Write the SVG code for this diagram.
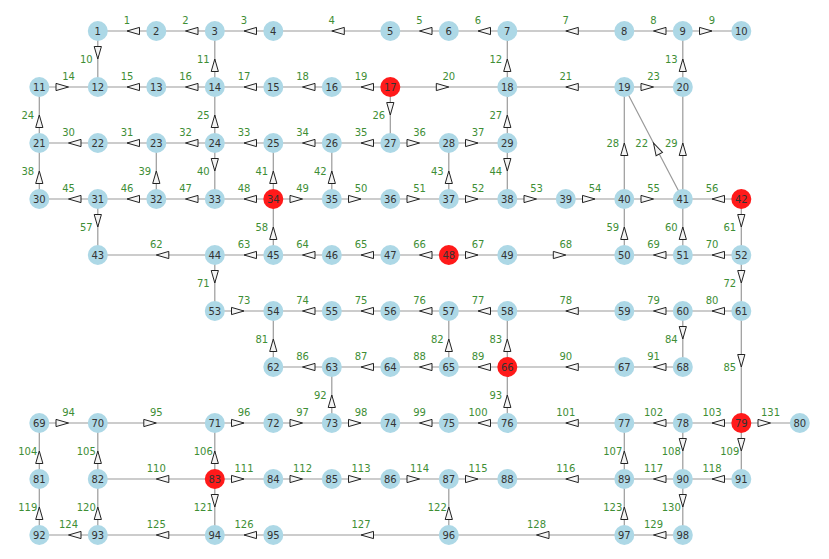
<svg xmlns="http://www.w3.org/2000/svg" width="829" height="559" viewBox="0 0 829 559">
<style>
.e{fill:none;stroke:#9a9a9a;stroke-width:1.2;marker-mid:url(#ah)}
.el{font-family:"DejaVu Sans",sans-serif;font-size:10px;fill:#3e8e35;text-anchor:middle;dominant-baseline:central}
.node circle{fill:#add8e6}
.node.hot circle{fill:#ff1a1a}
.node text{font-family:"DejaVu Sans",sans-serif;font-size:10px;fill:#333;text-anchor:middle;dominant-baseline:central}
</style>
<defs>
<marker id="ah" markerUnits="userSpaceOnUse" viewBox="-14 -6 16 12" refX="0" refY="0" markerWidth="16" markerHeight="12" orient="auto">
<path d="M-12.5,-3.6 L0,0 L-12.5,3.6 Z" fill="#f4f4f4" stroke="#222" stroke-width="1"/>
</marker>
</defs>
<rect width="829" height="559" fill="#fff"/>
<g id="edges">
<polyline class="e" points="156.3,31 127,31 97.8,31"/>
<polyline class="e" points="214.8,31 185.5,31 156.3,31"/>
<polyline class="e" points="273.3,31 244,31 214.8,31"/>
<polyline class="e" points="390.3,31 331.8,31 273.3,31"/>
<polyline class="e" points="448.8,31 419.5,31 390.3,31"/>
<polyline class="e" points="507.3,31 478,31 448.8,31"/>
<polyline class="e" points="624.3,31 565.8,31 507.3,31"/>
<polyline class="e" points="682.8,31 653.5,31 624.3,31"/>
<polyline class="e" points="682.8,31 712,31 741.3,31"/>
<polyline class="e" points="97.8,31 97.8,59 97.8,87"/>
<polyline class="e" points="214.8,87 214.8,59 214.8,31"/>
<polyline class="e" points="507.3,87 507.3,59 507.3,31"/>
<polyline class="e" points="682.8,87 682.8,59 682.8,31"/>
<polyline class="e" points="39.3,87 68.5,87 97.8,87"/>
<polyline class="e" points="156.3,87 127,87 97.8,87"/>
<polyline class="e" points="214.8,87 185.5,87 156.3,87"/>
<polyline class="e" points="273.3,87 244,87 214.8,87"/>
<polyline class="e" points="331.8,87 302.5,87 273.3,87"/>
<polyline class="e" points="390.3,87 361,87 331.8,87"/>
<polyline class="e" points="390.3,87 448.8,87 507.3,87"/>
<polyline class="e" points="624.3,87 565.8,87 507.3,87"/>
<polyline class="e" points="682.8,199 653.5,143 624.3,87"/>
<polyline class="e" points="624.3,87 653.5,87 682.8,87"/>
<polyline class="e" points="39.3,143 39.3,115 39.3,87"/>
<polyline class="e" points="214.8,143 214.8,115 214.8,87"/>
<polyline class="e" points="390.3,87 390.3,115 390.3,143"/>
<polyline class="e" points="507.3,143 507.3,115 507.3,87"/>
<polyline class="e" points="624.3,199 624.3,143 624.3,87"/>
<polyline class="e" points="682.8,199 682.8,143 682.8,87"/>
<polyline class="e" points="97.8,143 68.5,143 39.3,143"/>
<polyline class="e" points="156.3,143 127,143 97.8,143"/>
<polyline class="e" points="214.8,143 185.5,143 156.3,143"/>
<polyline class="e" points="273.3,143 244,143 214.8,143"/>
<polyline class="e" points="331.8,143 302.5,143 273.3,143"/>
<polyline class="e" points="390.3,143 361,143 331.8,143"/>
<polyline class="e" points="390.3,143 419.5,143 448.8,143"/>
<polyline class="e" points="448.8,143 478,143 507.3,143"/>
<polyline class="e" points="39.3,199 39.3,171 39.3,143"/>
<polyline class="e" points="156.3,199 156.3,171 156.3,143"/>
<polyline class="e" points="214.8,143 214.8,171 214.8,199"/>
<polyline class="e" points="273.3,199 273.3,171 273.3,143"/>
<polyline class="e" points="331.8,199 331.8,171 331.8,143"/>
<polyline class="e" points="448.8,199 448.8,171 448.8,143"/>
<polyline class="e" points="507.3,143 507.3,171 507.3,199"/>
<polyline class="e" points="97.8,199 68.5,199 39.3,199"/>
<polyline class="e" points="156.3,199 127,199 97.8,199"/>
<polyline class="e" points="214.8,199 185.5,199 156.3,199"/>
<polyline class="e" points="273.3,199 244,199 214.8,199"/>
<polyline class="e" points="273.3,199 302.5,199 331.8,199"/>
<polyline class="e" points="331.8,199 361,199 390.3,199"/>
<polyline class="e" points="390.3,199 419.5,199 448.8,199"/>
<polyline class="e" points="448.8,199 478,199 507.3,199"/>
<polyline class="e" points="507.3,199 536.5,199 565.8,199"/>
<polyline class="e" points="565.8,199 595,199 624.3,199"/>
<polyline class="e" points="624.3,199 653.5,199 682.8,199"/>
<polyline class="e" points="741.3,199 712,199 682.8,199"/>
<polyline class="e" points="97.8,199 97.8,227 97.8,255"/>
<polyline class="e" points="273.3,255 273.3,227 273.3,199"/>
<polyline class="e" points="624.3,255 624.3,227 624.3,199"/>
<polyline class="e" points="682.8,255 682.8,227 682.8,199"/>
<polyline class="e" points="741.3,199 741.3,227 741.3,255"/>
<polyline class="e" points="214.8,255 156.3,255 97.8,255"/>
<polyline class="e" points="273.3,255 244,255 214.8,255"/>
<polyline class="e" points="331.8,255 302.5,255 273.3,255"/>
<polyline class="e" points="390.3,255 361,255 331.8,255"/>
<polyline class="e" points="448.8,255 419.5,255 390.3,255"/>
<polyline class="e" points="448.8,255 478,255 507.3,255"/>
<polyline class="e" points="507.3,255 565.8,255 624.3,255"/>
<polyline class="e" points="682.8,255 653.5,255 624.3,255"/>
<polyline class="e" points="741.3,255 712,255 682.8,255"/>
<polyline class="e" points="214.8,255 214.8,283 214.8,311"/>
<polyline class="e" points="741.3,255 741.3,283 741.3,311"/>
<polyline class="e" points="214.8,311 244,311 273.3,311"/>
<polyline class="e" points="331.8,311 302.5,311 273.3,311"/>
<polyline class="e" points="390.3,311 361,311 331.8,311"/>
<polyline class="e" points="448.8,311 419.5,311 390.3,311"/>
<polyline class="e" points="507.3,311 478,311 448.8,311"/>
<polyline class="e" points="624.3,311 565.8,311 507.3,311"/>
<polyline class="e" points="682.8,311 653.5,311 624.3,311"/>
<polyline class="e" points="741.3,311 712,311 682.8,311"/>
<polyline class="e" points="273.3,367 273.3,339 273.3,311"/>
<polyline class="e" points="448.8,367 448.8,339 448.8,311"/>
<polyline class="e" points="507.3,367 507.3,339 507.3,311"/>
<polyline class="e" points="682.8,311 682.8,339 682.8,367"/>
<polyline class="e" points="741.3,311 741.3,367 741.3,423"/>
<polyline class="e" points="331.8,367 302.5,367 273.3,367"/>
<polyline class="e" points="390.3,367 361,367 331.8,367"/>
<polyline class="e" points="448.8,367 419.5,367 390.3,367"/>
<polyline class="e" points="507.3,367 478,367 448.8,367"/>
<polyline class="e" points="624.3,367 565.8,367 507.3,367"/>
<polyline class="e" points="682.8,367 653.5,367 624.3,367"/>
<polyline class="e" points="331.8,423 331.8,395 331.8,367"/>
<polyline class="e" points="507.3,423 507.3,395 507.3,367"/>
<polyline class="e" points="39.3,423 68.5,423 97.8,423"/>
<polyline class="e" points="97.8,423 156.3,423 214.8,423"/>
<polyline class="e" points="214.8,423 244,423 273.3,423"/>
<polyline class="e" points="273.3,423 302.5,423 331.8,423"/>
<polyline class="e" points="331.8,423 361,423 390.3,423"/>
<polyline class="e" points="448.8,423 419.5,423 390.3,423"/>
<polyline class="e" points="507.3,423 478,423 448.8,423"/>
<polyline class="e" points="624.3,423 565.8,423 507.3,423"/>
<polyline class="e" points="682.8,423 653.5,423 624.3,423"/>
<polyline class="e" points="741.3,423 712,423 682.8,423"/>
<polyline class="e" points="39.3,479 39.3,451 39.3,423"/>
<polyline class="e" points="97.8,479 97.8,451 97.8,423"/>
<polyline class="e" points="214.8,479 214.8,451 214.8,423"/>
<polyline class="e" points="624.3,479 624.3,451 624.3,423"/>
<polyline class="e" points="682.8,423 682.8,451 682.8,479"/>
<polyline class="e" points="741.3,423 741.3,451 741.3,479"/>
<polyline class="e" points="214.8,479 156.3,479 97.8,479"/>
<polyline class="e" points="214.8,479 244,479 273.3,479"/>
<polyline class="e" points="273.3,479 302.5,479 331.8,479"/>
<polyline class="e" points="331.8,479 361,479 390.3,479"/>
<polyline class="e" points="390.3,479 419.5,479 448.8,479"/>
<polyline class="e" points="448.8,479 478,479 507.3,479"/>
<polyline class="e" points="624.3,479 565.8,479 507.3,479"/>
<polyline class="e" points="682.8,479 653.5,479 624.3,479"/>
<polyline class="e" points="741.3,479 712,479 682.8,479"/>
<polyline class="e" points="39.3,535 39.3,507 39.3,479"/>
<polyline class="e" points="97.8,535 97.8,507 97.8,479"/>
<polyline class="e" points="214.8,479 214.8,507 214.8,535"/>
<polyline class="e" points="448.8,535 448.8,507 448.8,479"/>
<polyline class="e" points="624.3,535 624.3,507 624.3,479"/>
<polyline class="e" points="97.8,535 68.5,535 39.3,535"/>
<polyline class="e" points="214.8,535 156.3,535 97.8,535"/>
<polyline class="e" points="273.3,535 244,535 214.8,535"/>
<polyline class="e" points="448.8,535 361,535 273.3,535"/>
<polyline class="e" points="624.3,535 536.5,535 448.8,535"/>
<polyline class="e" points="682.8,535 653.5,535 624.3,535"/>
<polyline class="e" points="682.8,479 682.8,507 682.8,535"/>
<polyline class="e" points="741.3,423 770.5,423 799.8,423"/>
</g>
<g id="edge-labels">
<text class="el" x="127" y="20">1</text>
<text class="el" x="185.5" y="20">2</text>
<text class="el" x="244" y="20">3</text>
<text class="el" x="331.8" y="20">4</text>
<text class="el" x="419.5" y="20">5</text>
<text class="el" x="478" y="20">6</text>
<text class="el" x="565.8" y="20">7</text>
<text class="el" x="653.5" y="20">8</text>
<text class="el" x="712" y="20">9</text>
<text class="el" x="86.3" y="59">10</text>
<text class="el" x="203.3" y="59">11</text>
<text class="el" x="495.8" y="59">12</text>
<text class="el" x="671.3" y="59">13</text>
<text class="el" x="68.5" y="76">14</text>
<text class="el" x="127" y="76">15</text>
<text class="el" x="185.5" y="76">16</text>
<text class="el" x="244" y="76">17</text>
<text class="el" x="302.5" y="76">18</text>
<text class="el" x="361" y="76">19</text>
<text class="el" x="448.8" y="76">20</text>
<text class="el" x="565.8" y="76">21</text>
<text class="el" x="641.7" y="143">22</text>
<text class="el" x="653.5" y="76">23</text>
<text class="el" x="27.8" y="115">24</text>
<text class="el" x="203.3" y="115">25</text>
<text class="el" x="378.8" y="115">26</text>
<text class="el" x="495.8" y="115">27</text>
<text class="el" x="612.8" y="143">28</text>
<text class="el" x="671.3" y="143">29</text>
<text class="el" x="68.5" y="132">30</text>
<text class="el" x="127" y="132">31</text>
<text class="el" x="185.5" y="132">32</text>
<text class="el" x="244" y="132">33</text>
<text class="el" x="302.5" y="132">34</text>
<text class="el" x="361" y="132">35</text>
<text class="el" x="419.5" y="132">36</text>
<text class="el" x="478" y="132">37</text>
<text class="el" x="27.8" y="171">38</text>
<text class="el" x="144.8" y="171">39</text>
<text class="el" x="203.3" y="171">40</text>
<text class="el" x="261.8" y="171">41</text>
<text class="el" x="320.3" y="171">42</text>
<text class="el" x="437.3" y="171">43</text>
<text class="el" x="495.8" y="171">44</text>
<text class="el" x="68.5" y="188">45</text>
<text class="el" x="127" y="188">46</text>
<text class="el" x="185.5" y="188">47</text>
<text class="el" x="244" y="188">48</text>
<text class="el" x="302.5" y="188">49</text>
<text class="el" x="361" y="188">50</text>
<text class="el" x="419.5" y="188">51</text>
<text class="el" x="478" y="188">52</text>
<text class="el" x="536.5" y="188">53</text>
<text class="el" x="595" y="188">54</text>
<text class="el" x="653.5" y="188">55</text>
<text class="el" x="712" y="188">56</text>
<text class="el" x="86.3" y="227">57</text>
<text class="el" x="261.8" y="227">58</text>
<text class="el" x="612.8" y="227">59</text>
<text class="el" x="671.3" y="227">60</text>
<text class="el" x="729.8" y="227">61</text>
<text class="el" x="156.3" y="244">62</text>
<text class="el" x="244" y="244">63</text>
<text class="el" x="302.5" y="244">64</text>
<text class="el" x="361" y="244">65</text>
<text class="el" x="419.5" y="244">66</text>
<text class="el" x="478" y="244">67</text>
<text class="el" x="565.8" y="244">68</text>
<text class="el" x="653.5" y="244">69</text>
<text class="el" x="712" y="244">70</text>
<text class="el" x="203.3" y="283">71</text>
<text class="el" x="729.8" y="283">72</text>
<text class="el" x="244" y="300">73</text>
<text class="el" x="302.5" y="300">74</text>
<text class="el" x="361" y="300">75</text>
<text class="el" x="419.5" y="300">76</text>
<text class="el" x="478" y="300">77</text>
<text class="el" x="565.8" y="300">78</text>
<text class="el" x="653.5" y="300">79</text>
<text class="el" x="712" y="300">80</text>
<text class="el" x="261.8" y="339">81</text>
<text class="el" x="437.3" y="339">82</text>
<text class="el" x="495.8" y="339">83</text>
<text class="el" x="671.3" y="339">84</text>
<text class="el" x="729.8" y="367">85</text>
<text class="el" x="302.5" y="356">86</text>
<text class="el" x="361" y="356">87</text>
<text class="el" x="419.5" y="356">88</text>
<text class="el" x="478" y="356">89</text>
<text class="el" x="565.8" y="356">90</text>
<text class="el" x="653.5" y="356">91</text>
<text class="el" x="320.3" y="395">92</text>
<text class="el" x="495.8" y="395">93</text>
<text class="el" x="68.5" y="412">94</text>
<text class="el" x="156.3" y="412">95</text>
<text class="el" x="244" y="412">96</text>
<text class="el" x="302.5" y="412">97</text>
<text class="el" x="361" y="412">98</text>
<text class="el" x="419.5" y="412">99</text>
<text class="el" x="478" y="412">100</text>
<text class="el" x="565.8" y="412">101</text>
<text class="el" x="653.5" y="412">102</text>
<text class="el" x="712" y="412">103</text>
<text class="el" x="27.8" y="451">104</text>
<text class="el" x="86.3" y="451">105</text>
<text class="el" x="203.3" y="451">106</text>
<text class="el" x="612.8" y="451">107</text>
<text class="el" x="671.3" y="451">108</text>
<text class="el" x="729.8" y="451">109</text>
<text class="el" x="156.3" y="468">110</text>
<text class="el" x="244" y="468">111</text>
<text class="el" x="302.5" y="468">112</text>
<text class="el" x="361" y="468">113</text>
<text class="el" x="419.5" y="468">114</text>
<text class="el" x="478" y="468">115</text>
<text class="el" x="565.8" y="468">116</text>
<text class="el" x="653.5" y="468">117</text>
<text class="el" x="712" y="468">118</text>
<text class="el" x="27.8" y="507">119</text>
<text class="el" x="86.3" y="507">120</text>
<text class="el" x="203.3" y="507">121</text>
<text class="el" x="437.3" y="507">122</text>
<text class="el" x="612.8" y="507">123</text>
<text class="el" x="68.5" y="524">124</text>
<text class="el" x="156.3" y="524">125</text>
<text class="el" x="244" y="524">126</text>
<text class="el" x="361" y="524">127</text>
<text class="el" x="536.5" y="524">128</text>
<text class="el" x="653.5" y="524">129</text>
<text class="el" x="671.3" y="507">130</text>
<text class="el" x="770.5" y="412">131</text>
</g>
<g id="nodes">
<g id="n1" class="node"><circle cx="97.8" cy="31" r="10"/><text x="97.8" y="31">1</text></g>
<g id="n2" class="node"><circle cx="156.3" cy="31" r="10"/><text x="156.3" y="31">2</text></g>
<g id="n3" class="node"><circle cx="214.8" cy="31" r="10"/><text x="214.8" y="31">3</text></g>
<g id="n4" class="node"><circle cx="273.3" cy="31" r="10"/><text x="273.3" y="31">4</text></g>
<g id="n5" class="node"><circle cx="390.3" cy="31" r="10"/><text x="390.3" y="31">5</text></g>
<g id="n6" class="node"><circle cx="448.8" cy="31" r="10"/><text x="448.8" y="31">6</text></g>
<g id="n7" class="node"><circle cx="507.3" cy="31" r="10"/><text x="507.3" y="31">7</text></g>
<g id="n8" class="node"><circle cx="624.3" cy="31" r="10"/><text x="624.3" y="31">8</text></g>
<g id="n9" class="node"><circle cx="682.8" cy="31" r="10"/><text x="682.8" y="31">9</text></g>
<g id="n10" class="node"><circle cx="741.3" cy="31" r="10"/><text x="741.3" y="31">10</text></g>
<g id="n11" class="node"><circle cx="39.3" cy="87" r="10"/><text x="39.3" y="87">11</text></g>
<g id="n12" class="node"><circle cx="97.8" cy="87" r="10"/><text x="97.8" y="87">12</text></g>
<g id="n13" class="node"><circle cx="156.3" cy="87" r="10"/><text x="156.3" y="87">13</text></g>
<g id="n14" class="node"><circle cx="214.8" cy="87" r="10"/><text x="214.8" y="87">14</text></g>
<g id="n15" class="node"><circle cx="273.3" cy="87" r="10"/><text x="273.3" y="87">15</text></g>
<g id="n16" class="node"><circle cx="331.8" cy="87" r="10"/><text x="331.8" y="87">16</text></g>
<g id="n17" class="node hot"><circle cx="390.3" cy="87" r="10"/><text x="390.3" y="87">17</text></g>
<g id="n18" class="node"><circle cx="507.3" cy="87" r="10"/><text x="507.3" y="87">18</text></g>
<g id="n19" class="node"><circle cx="624.3" cy="87" r="10"/><text x="624.3" y="87">19</text></g>
<g id="n20" class="node"><circle cx="682.8" cy="87" r="10"/><text x="682.8" y="87">20</text></g>
<g id="n21" class="node"><circle cx="39.3" cy="143" r="10"/><text x="39.3" y="143">21</text></g>
<g id="n22" class="node"><circle cx="97.8" cy="143" r="10"/><text x="97.8" y="143">22</text></g>
<g id="n23" class="node"><circle cx="156.3" cy="143" r="10"/><text x="156.3" y="143">23</text></g>
<g id="n24" class="node"><circle cx="214.8" cy="143" r="10"/><text x="214.8" y="143">24</text></g>
<g id="n25" class="node"><circle cx="273.3" cy="143" r="10"/><text x="273.3" y="143">25</text></g>
<g id="n26" class="node"><circle cx="331.8" cy="143" r="10"/><text x="331.8" y="143">26</text></g>
<g id="n27" class="node"><circle cx="390.3" cy="143" r="10"/><text x="390.3" y="143">27</text></g>
<g id="n28" class="node"><circle cx="448.8" cy="143" r="10"/><text x="448.8" y="143">28</text></g>
<g id="n29" class="node"><circle cx="507.3" cy="143" r="10"/><text x="507.3" y="143">29</text></g>
<g id="n30" class="node"><circle cx="39.3" cy="199" r="10"/><text x="39.3" y="199">30</text></g>
<g id="n31" class="node"><circle cx="97.8" cy="199" r="10"/><text x="97.8" y="199">31</text></g>
<g id="n32" class="node"><circle cx="156.3" cy="199" r="10"/><text x="156.3" y="199">32</text></g>
<g id="n33" class="node"><circle cx="214.8" cy="199" r="10"/><text x="214.8" y="199">33</text></g>
<g id="n34" class="node hot"><circle cx="273.3" cy="199" r="10"/><text x="273.3" y="199">34</text></g>
<g id="n35" class="node"><circle cx="331.8" cy="199" r="10"/><text x="331.8" y="199">35</text></g>
<g id="n36" class="node"><circle cx="390.3" cy="199" r="10"/><text x="390.3" y="199">36</text></g>
<g id="n37" class="node"><circle cx="448.8" cy="199" r="10"/><text x="448.8" y="199">37</text></g>
<g id="n38" class="node"><circle cx="507.3" cy="199" r="10"/><text x="507.3" y="199">38</text></g>
<g id="n39" class="node"><circle cx="565.8" cy="199" r="10"/><text x="565.8" y="199">39</text></g>
<g id="n40" class="node"><circle cx="624.3" cy="199" r="10"/><text x="624.3" y="199">40</text></g>
<g id="n41" class="node"><circle cx="682.8" cy="199" r="10"/><text x="682.8" y="199">41</text></g>
<g id="n42" class="node hot"><circle cx="741.3" cy="199" r="10"/><text x="741.3" y="199">42</text></g>
<g id="n43" class="node"><circle cx="97.8" cy="255" r="10"/><text x="97.8" y="255">43</text></g>
<g id="n44" class="node"><circle cx="214.8" cy="255" r="10"/><text x="214.8" y="255">44</text></g>
<g id="n45" class="node"><circle cx="273.3" cy="255" r="10"/><text x="273.3" y="255">45</text></g>
<g id="n46" class="node"><circle cx="331.8" cy="255" r="10"/><text x="331.8" y="255">46</text></g>
<g id="n47" class="node"><circle cx="390.3" cy="255" r="10"/><text x="390.3" y="255">47</text></g>
<g id="n48" class="node hot"><circle cx="448.8" cy="255" r="10"/><text x="448.8" y="255">48</text></g>
<g id="n49" class="node"><circle cx="507.3" cy="255" r="10"/><text x="507.3" y="255">49</text></g>
<g id="n50" class="node"><circle cx="624.3" cy="255" r="10"/><text x="624.3" y="255">50</text></g>
<g id="n51" class="node"><circle cx="682.8" cy="255" r="10"/><text x="682.8" y="255">51</text></g>
<g id="n52" class="node"><circle cx="741.3" cy="255" r="10"/><text x="741.3" y="255">52</text></g>
<g id="n53" class="node"><circle cx="214.8" cy="311" r="10"/><text x="214.8" y="311">53</text></g>
<g id="n54" class="node"><circle cx="273.3" cy="311" r="10"/><text x="273.3" y="311">54</text></g>
<g id="n55" class="node"><circle cx="331.8" cy="311" r="10"/><text x="331.8" y="311">55</text></g>
<g id="n56" class="node"><circle cx="390.3" cy="311" r="10"/><text x="390.3" y="311">56</text></g>
<g id="n57" class="node"><circle cx="448.8" cy="311" r="10"/><text x="448.8" y="311">57</text></g>
<g id="n58" class="node"><circle cx="507.3" cy="311" r="10"/><text x="507.3" y="311">58</text></g>
<g id="n59" class="node"><circle cx="624.3" cy="311" r="10"/><text x="624.3" y="311">59</text></g>
<g id="n60" class="node"><circle cx="682.8" cy="311" r="10"/><text x="682.8" y="311">60</text></g>
<g id="n61" class="node"><circle cx="741.3" cy="311" r="10"/><text x="741.3" y="311">61</text></g>
<g id="n62" class="node"><circle cx="273.3" cy="367" r="10"/><text x="273.3" y="367">62</text></g>
<g id="n63" class="node"><circle cx="331.8" cy="367" r="10"/><text x="331.8" y="367">63</text></g>
<g id="n64" class="node"><circle cx="390.3" cy="367" r="10"/><text x="390.3" y="367">64</text></g>
<g id="n65" class="node"><circle cx="448.8" cy="367" r="10"/><text x="448.8" y="367">65</text></g>
<g id="n66" class="node hot"><circle cx="507.3" cy="367" r="10"/><text x="507.3" y="367">66</text></g>
<g id="n67" class="node"><circle cx="624.3" cy="367" r="10"/><text x="624.3" y="367">67</text></g>
<g id="n68" class="node"><circle cx="682.8" cy="367" r="10"/><text x="682.8" y="367">68</text></g>
<g id="n69" class="node"><circle cx="39.3" cy="423" r="10"/><text x="39.3" y="423">69</text></g>
<g id="n70" class="node"><circle cx="97.8" cy="423" r="10"/><text x="97.8" y="423">70</text></g>
<g id="n71" class="node"><circle cx="214.8" cy="423" r="10"/><text x="214.8" y="423">71</text></g>
<g id="n72" class="node"><circle cx="273.3" cy="423" r="10"/><text x="273.3" y="423">72</text></g>
<g id="n73" class="node"><circle cx="331.8" cy="423" r="10"/><text x="331.8" y="423">73</text></g>
<g id="n74" class="node"><circle cx="390.3" cy="423" r="10"/><text x="390.3" y="423">74</text></g>
<g id="n75" class="node"><circle cx="448.8" cy="423" r="10"/><text x="448.8" y="423">75</text></g>
<g id="n76" class="node"><circle cx="507.3" cy="423" r="10"/><text x="507.3" y="423">76</text></g>
<g id="n77" class="node"><circle cx="624.3" cy="423" r="10"/><text x="624.3" y="423">77</text></g>
<g id="n78" class="node"><circle cx="682.8" cy="423" r="10"/><text x="682.8" y="423">78</text></g>
<g id="n79" class="node hot"><circle cx="741.3" cy="423" r="10"/><text x="741.3" y="423">79</text></g>
<g id="n80" class="node"><circle cx="799.8" cy="423" r="10"/><text x="799.8" y="423">80</text></g>
<g id="n81" class="node"><circle cx="39.3" cy="479" r="10"/><text x="39.3" y="479">81</text></g>
<g id="n82" class="node"><circle cx="97.8" cy="479" r="10"/><text x="97.8" y="479">82</text></g>
<g id="n83" class="node hot"><circle cx="214.8" cy="479" r="10"/><text x="214.8" y="479">83</text></g>
<g id="n84" class="node"><circle cx="273.3" cy="479" r="10"/><text x="273.3" y="479">84</text></g>
<g id="n85" class="node"><circle cx="331.8" cy="479" r="10"/><text x="331.8" y="479">85</text></g>
<g id="n86" class="node"><circle cx="390.3" cy="479" r="10"/><text x="390.3" y="479">86</text></g>
<g id="n87" class="node"><circle cx="448.8" cy="479" r="10"/><text x="448.8" y="479">87</text></g>
<g id="n88" class="node"><circle cx="507.3" cy="479" r="10"/><text x="507.3" y="479">88</text></g>
<g id="n89" class="node"><circle cx="624.3" cy="479" r="10"/><text x="624.3" y="479">89</text></g>
<g id="n90" class="node"><circle cx="682.8" cy="479" r="10"/><text x="682.8" y="479">90</text></g>
<g id="n91" class="node"><circle cx="741.3" cy="479" r="10"/><text x="741.3" y="479">91</text></g>
<g id="n92" class="node"><circle cx="39.3" cy="535" r="10"/><text x="39.3" y="535">92</text></g>
<g id="n93" class="node"><circle cx="97.8" cy="535" r="10"/><text x="97.8" y="535">93</text></g>
<g id="n94" class="node"><circle cx="214.8" cy="535" r="10"/><text x="214.8" y="535">94</text></g>
<g id="n95" class="node"><circle cx="273.3" cy="535" r="10"/><text x="273.3" y="535">95</text></g>
<g id="n96" class="node"><circle cx="448.8" cy="535" r="10"/><text x="448.8" y="535">96</text></g>
<g id="n97" class="node"><circle cx="624.3" cy="535" r="10"/><text x="624.3" y="535">97</text></g>
<g id="n98" class="node"><circle cx="682.8" cy="535" r="10"/><text x="682.8" y="535">98</text></g>
</g>
</svg>
